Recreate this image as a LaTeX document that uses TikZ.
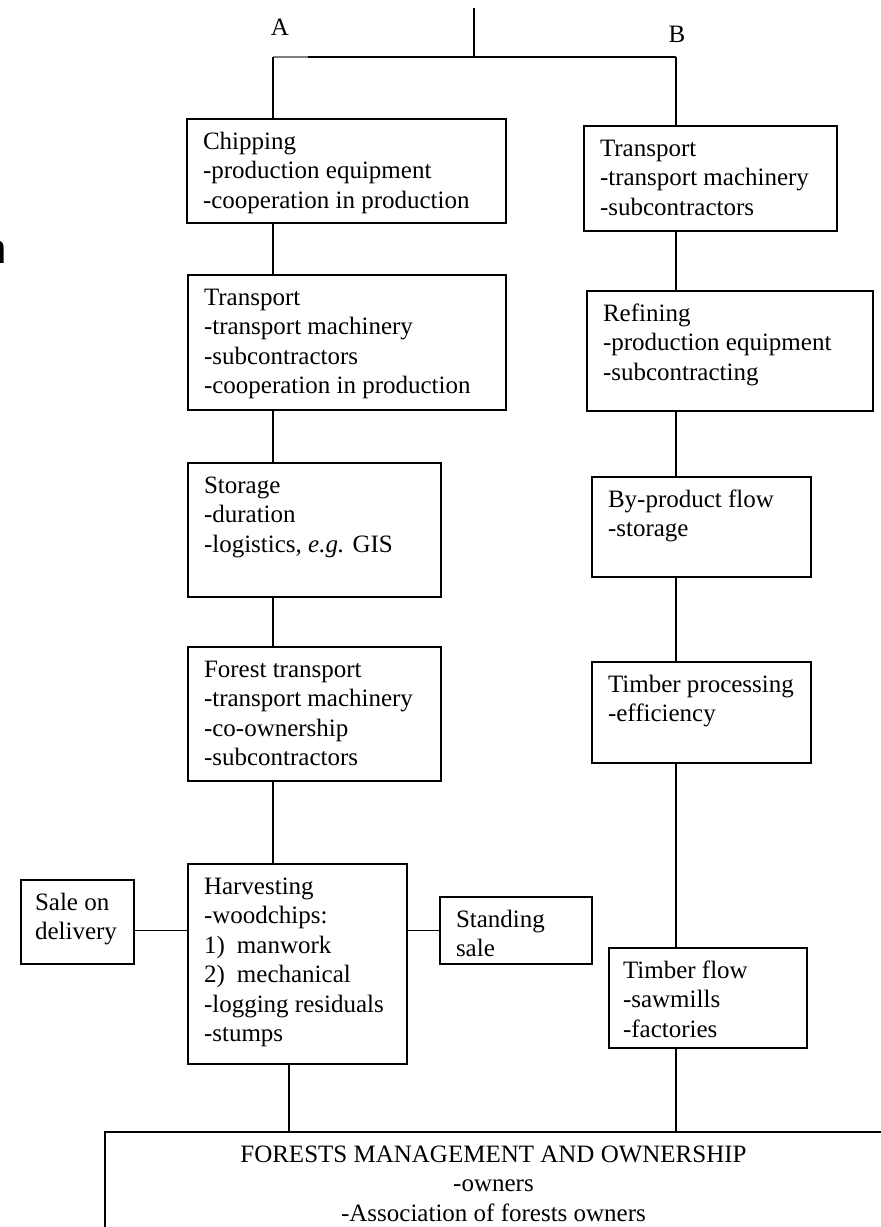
\documentclass[tikz,border=0pt]{standalone}
\usepackage{fontspec}
\setmainfont{Liberation Serif}
\newfontfamily\sansfont{Liberation Sans}
\newdimen\px \px=0.5pt
\newcommand\cell[3]{\parbox[t][\dimexpr#2\px-10pt\relax][t]{\dimexpr#1\px-16pt\relax}{\strut#3}}
\newcommand\numitem[2]{\makebox[16.5pt][l]{#1}#2}

\begin{document}
\begin{tikzpicture}[x=0.5pt,y=-0.5pt,font=\fontsize{12.5}{14.7}\selectfont]
  \useasboundingbox (0,0) rectangle (880,1227);

  \node[anchor=base] (a) at (280,35) {A};
  \node[anchor=base] (b) at (677,42) {B};
  \node[anchor=base east,inner sep=0pt,font=\sansfont\fontsize{21}{25}\selectfont] (n) at (7,263) {n};

  \coordinate (top) at (474,8);
  \coordinate (join) at (474,57);
  \coordinate (spineA) at (273,57);
  \coordinate (stubA) at (308,57);
  \coordinate (spineB) at (676,57);
  \coordinate (spineC) at (289,57);

  \begin{scope}[line width=0.8pt]
    \tikzstyle{every node}=[draw, anchor=north west, inner xsep=8pt, inner ysep=5pt, outer sep=0pt]
    % branch A
    \node (chip) at (187,119) {\cell{319}{104}{Chipping\\-production equipment\\-cooperation in production}};
    \node (transA) at (188,275) {\cell{318}{135}{Transport\\-transport machinery\\-subcontractors\\-cooperation in production}};
    \node (stor) at (188,463) {\cell{253}{134}{Storage\\-duration\\-logistics, \textit{e.g.} GIS}};
    \node (forest) at (188,647) {\cell{253}{134}{Forest transport\\-transport machinery\\-co-ownership\\-subcontractors}};
    \node (harv) at (188,864) {\cell{219}{200}{Harvesting\\-woodchips:\\\numitem{1)}{manwork}\\\numitem{2)}{mechanical}\\-logging residuals\\-stumps}};
    \node[inner xsep=7pt] (sale) at (21,880) {\cell{117}{84}{Sale on\\delivery}};
    \node (stand) at (440,897) {\cell{152}{67}{Standing\\sale}};
    % branch B
    \node (transB) at (584,126) {\cell{253}{105}{Transport\\-transport machinery\\-subcontractors}};
    \node (refin) at (587,291) {\cell{286}{120}{Refining\\-production equipment\\-subcontracting}};
    \node (byprod) at (592,477) {\cell{219}{100}{By-product flow\\-storage}};
    \node (timproc) at (592,662) {\cell{219}{101}{Timber processing\\-efficiency}};
    \node[inner xsep=7pt] (timflow) at (609,948) {\cell{202}{100}{Timber flow\\-sawmills\\-factories}};
    % base
    \node (owners) at (105,1132) {\parbox[t][\dimexpr130\px-10pt\relax][t]{\dimexpr777\px-16pt\relax}{\centering\strut FORESTS MANAGEMENT AND OWNERSHIP\\-owners\\-Association of forests owners}};
  \end{scope}

  \begin{scope}[line width=0.6pt]
    \draw (top) -- (join);
    \draw[gray] (spineA) -- (stubA);
    \draw (stubA) -- (spineB);
    \draw (spineA) -- (chip.north -| spineA);
    \draw (chip.south -| spineA) -- (transA.north -| spineA);
    \draw (transA.south -| spineA) -- (stor.north -| spineA);
    \draw (stor.south -| spineA) -- (forest.north -| spineA);
    \draw (forest.south -| spineA) -- (harv.north -| spineA);
    \draw (harv.south -| spineC) -- (owners.north -| spineC);
    \draw (sale.east |- stand.west) -- (harv.west |- stand.west);
    \draw (harv.east |- stand.west) -- (stand.west);
    \draw (spineB) -- (transB.north -| spineB);
    \draw (transB.south -| spineB) -- (refin.north -| spineB);
    \draw (refin.south -| spineB) -- (byprod.north -| spineB);
    \draw (byprod.south -| spineB) -- (timproc.north -| spineB);
    \draw (timproc.south -| spineB) -- (timflow.north -| spineB);
    \draw (timflow.south -| spineB) -- (owners.north -| spineB);
  \end{scope}

\end{tikzpicture}
\end{document}
